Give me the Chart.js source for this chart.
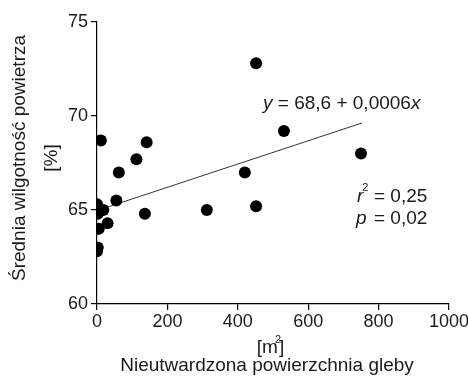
<!DOCTYPE html>
<html>
<head>
<meta charset="utf-8">
<script src="https://cdn.jsdelivr.net/npm/chart.js@4.4.1/dist/chart.umd.min.js"></script>
<style>
	body { margin: 0; background: #fff; }
	#wrap { width: 468px; height: 377px; position: relative; }
</style>
</head>
<body>
<div id="wrap"><canvas id="chart"></canvas></div>
<script>
// measured points (unpaved area [m2], mean air humidity [%])
const areaX = [0, 2, 18, 5, 30, 2, 0, 55, 136, 312, 11, 62, 112, 141, 420, 452, 452, 531, 750]
const humidityY = [65.3, 64.8, 65.0, 64.0, 64.3, 63.0, 62.8, 65.5, 64.8, 65.0, 68.7, 67.0, 67.7, 68.6, 67.0, 72.8, 65.2, 69.2, 68.0]

// fitted line end points as drawn in the figure
const fitX = [0, 753]
const fitY = [64.97, 69.63]

const xTicks = [0, 200, 400, 600, 800, 1000]
const yTicks = [60, 65, 70, 75]

const FONT = "'Liberation Sans', Arial, sans-serif"
const INK = '#1a1a1a'
const TXT = 19

const textPlugin = {
	id: 'texts',
	afterDraw(chart) {
		const ctx = chart.ctx
		ctx.save()
		ctx.fillStyle = INK
		ctx.textBaseline = 'middle'

		// y axis title (two lines, rotated)
		ctx.save()
		ctx.font = `${TXT}px ${FONT}`
		ctx.textAlign = 'center'
		ctx.translate(20, 158)
		ctx.rotate(-Math.PI / 2)
		ctx.fillText('Średnia wilgotność powietrza', 0, 0)
		ctx.translate(0, 32)
		ctx.fillText('[%]', 0, 0)
		ctx.restore()

		// x axis title
		ctx.font = `${TXT}px ${FONT}`
		ctx.textAlign = 'center'
		ctx.fillText('Nieutwardzona powierzchnia gleby', 267, 366)
		ctx.textAlign = 'left'
		const mW = ctx.measureText('[m').width
		const cW = ctx.measureText(']').width
		const bx = 270 - (mW + cW) / 2
		ctx.fillText('[m', bx, 348)
		ctx.fillText(']', bx + mW + 1, 348)
		ctx.font = `11px ${FONT}`
		ctx.fillText('2', bx + mW - 3, 340)

		// equation
		let x = 263
		const y0 = 104
		const parts = [['y', true], [' = 68,6 + 0,0006', false], ['x', true]]
		parts.forEach(([t, it]) => {
			ctx.font = `${it ? 'italic ' : ''}${TXT}px ${FONT}`
			ctx.fillText(t, x, y0)
			x += ctx.measureText(t).width
		})

		// r2 and p
		ctx.font = `italic ${TXT}px ${FONT}`
		ctx.fillText('r', 357, 197)
		const rW = ctx.measureText('r').width
		ctx.font = `11px ${FONT}`
		ctx.fillText('2', 357 + rW - 1, 188)
		ctx.font = `${TXT}px ${FONT}`
		ctx.fillText('= 0,25', 374, 197)

		ctx.font = `italic ${TXT}px ${FONT}`
		ctx.fillText('p', 356, 219)
		ctx.font = `${TXT}px ${FONT}`
		ctx.fillText('= 0,02', 374, 219)

		ctx.restore()
	}
}

const ctx = document.getElementById('chart').getContext('2d')
new Chart(ctx, {
	type: 'scatter',
	data: {
		datasets: [
			{
				type: 'scatter',
				data: areaX.map((v, i) => ({ x: v, y: humidityY[i] })),
				backgroundColor: '#000',
				borderColor: '#000',
				borderWidth: 0,
				pointRadius: 6,
				order: 1
			},
			{
				type: 'line',
				data: fitX.map((v, i) => ({ x: v, y: fitY[i] })),
				borderColor: '#333',
				borderWidth: 1,
				pointRadius: 0,
				fill: false,
				order: 2
			}
		]
	},
	options: {
		responsive: true,
		maintainAspectRatio: false,
		animation: false,
		layout: { padding: { top: 22, right: 19, left: 0, bottom: 0 } },
		plugins: {
			legend: { display: false },
			tooltip: { enabled: false }
		},
		scales: {
			x: {
				type: 'linear',
				min: 0,
				max: 1000,
				afterBuildTicks: (s) => { s.ticks = xTicks.map(v => ({ value: v })) },
				afterFit: (s) => { s.height = 73; s.paddingLeft = 0; s.paddingRight = 0 },
				grid: { drawOnChartArea: false, drawTicks: true, tickLength: 6, color: '#000', lineWidth: 1.2 },
				border: { display: true, color: '#000', width: 1.2 },
				ticks: { color: INK, font: { family: FONT, size: 18 }, padding: 1, maxRotation: 0, callback: (v) => String(v) }
			},
			y: {
				type: 'linear',
				min: 60,
				max: 75,
				afterBuildTicks: (s) => { s.ticks = yTicks.map(v => ({ value: v })) },
				afterFit: (s) => { s.width = 97; s.paddingTop = 0; s.paddingBottom = 0 },
				grid: { drawOnChartArea: false, drawTicks: true, tickLength: 6, color: '#000', lineWidth: 1.2 },
				border: { display: true, color: '#000', width: 1.2 },
				ticks: { color: INK, font: { family: FONT, size: 18 }, padding: 3, callback: (v) => String(v) }
			}
		}
	},
	plugins: [textPlugin]
})
</script>
</body>
</html>
